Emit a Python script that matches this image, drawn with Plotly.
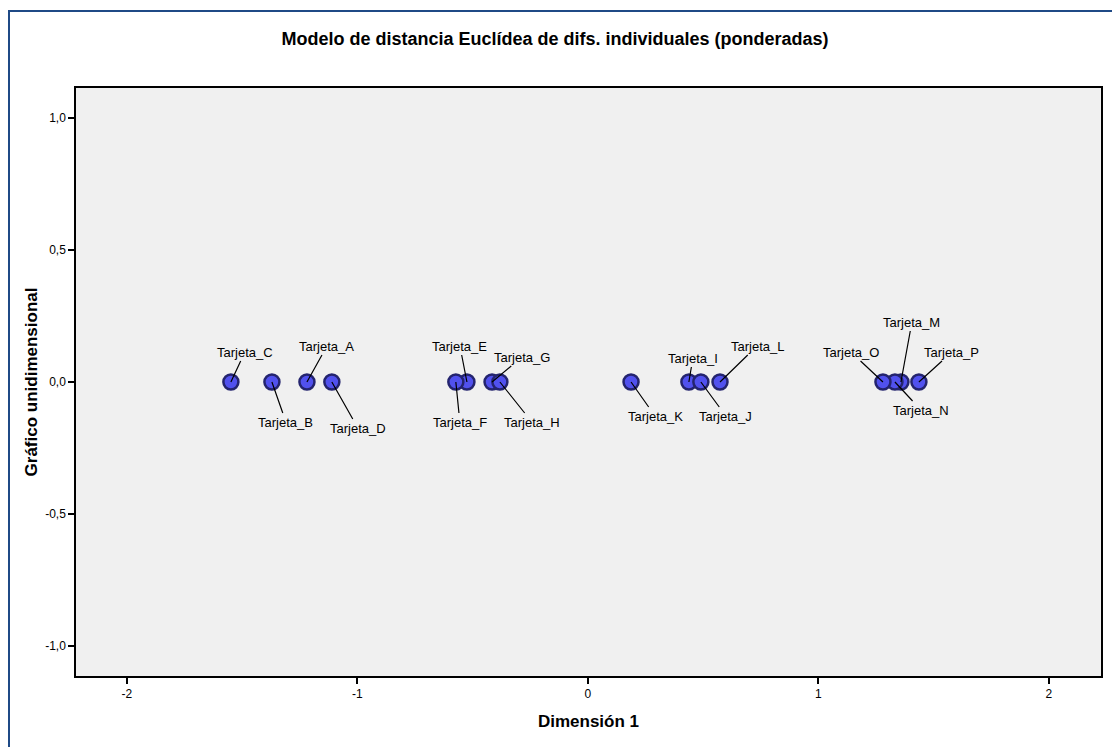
import plotly.graph_objects as go

# Data
labels = ["Tarjeta_A", "Tarjeta_B", "Tarjeta_C", "Tarjeta_D", "Tarjeta_E", "Tarjeta_F",
          "Tarjeta_G", "Tarjeta_H", "Tarjeta_I", "Tarjeta_J", "Tarjeta_K", "Tarjeta_L",
          "Tarjeta_M", "Tarjeta_N", "Tarjeta_O", "Tarjeta_P"]
dim1 = [-1.219, -1.371, -1.549, -1.111, -0.525, -0.573, -0.416, -0.382,
        0.438, 0.490, 0.187, 0.573, 1.358, 1.332, 1.280, 1.436]
dim2 = [0.0] * 16

x_ticks = [-2, -1, 0, 1, 2]
x_tick_text = ["-2", "-1", "0", "1", "2"]
y_ticks = [-1.0, -0.5, 0.0, 0.5, 1.0]
y_tick_text = ["-1,0", "-0,5", "0,0", "0,5", "1,0"]

# Label offsets in pixels (style only)
label_offsets = {
    "Tarjeta_A": (20, -36), "Tarjeta_B": (14, 40), "Tarjeta_C": (14, -30), "Tarjeta_D": (26, 46),
    "Tarjeta_E": (-7, -36), "Tarjeta_F": (4, 40), "Tarjeta_G": (30, -25), "Tarjeta_H": (32, 40),
    "Tarjeta_I": (4, -24), "Tarjeta_J": (25, 34), "Tarjeta_K": (24, 34), "Tarjeta_L": (37, -36),
    "Tarjeta_M": (11, -60), "Tarjeta_N": (26, 28), "Tarjeta_O": (-32, -30), "Tarjeta_P": (33, -30),
}

FONT = "Liberation Sans, Arial, sans-serif"

W, H = 1112, 739
L, R, T, B = 68, 19, 80, 71
PW, PH = W - L - R, H - T - B

fig = go.Figure()
fig.add_trace(go.Scatter(
    x=dim1, y=dim2, mode="markers", text=labels, hoverinfo="text",
    marker=dict(size=15, color="#5151ee", line=dict(color="#24246e", width=2.5)),
    showlegend=False,
))

annotations = []
for lab, xv, yv in zip(labels, dim1, dim2):
    ax, ay = label_offsets[lab]
    annotations.append(dict(
        x=xv, y=yv, xref="x", yref="y", text=lab, showarrow=True, arrowhead=0,
        arrowwidth=1.2, arrowcolor="black", ax=ax, ay=ay, standoff=0,
        font=dict(family=FONT, size=13, color="black"),
    ))

fig.update_layout(
    width=W, height=H,
    margin=dict(l=L, r=R, t=T, b=B),
    paper_bgcolor="white", plot_bgcolor="#f0f0f0",
    separators=",.",
    title=dict(text="<b>Modelo de distancia Euclídea de difs. individuales (ponderadas)</b>",
               x=547 / W, xref="container", y=1 - 31 / H, yref="container",
               xanchor="center", yanchor="middle",
               font=dict(family=FONT, size=18, color="black")),
    xaxis=dict(range=[-2.221, 2.226], tickvals=x_ticks, ticktext=x_tick_text,
               ticks="outside", ticklen=6,
               tickcolor="black", tickwidth=1.5, showgrid=False, zeroline=False,
               showline=True, linecolor="black", linewidth=1.5, mirror=True,
               tickfont=dict(family=FONT, size=12, color="black"),
               title=dict(text="<b>Dimensión 1</b>", standoff=15,
                          font=dict(family=FONT, size=17, color="black"))),
    yaxis=dict(range=[-1.114, 1.114], tickvals=y_ticks, ticktext=y_tick_text,
               ticks="outside", ticklen=6, tickcolor="black", tickwidth=1.5,
               showgrid=False, zeroline=False,
               showline=True, linecolor="black", linewidth=1.5, mirror=True,
               tickfont=dict(family=FONT, size=12, color="black"),
               title=dict(text="<b>Gráfico unidimensional</b>", standoff=3,
                          font=dict(family=FONT, size=17, color="black"))),
    annotations=annotations,
    shapes=[dict(type="rect", xref="paper", yref="paper",
                 x0=(1 - L) / PW, x1=(1130 - L) / PW,
                 y0=(PH + T - 760) / PH, y1=(PH + T - 3) / PH,
                 line=dict(color="#1f4a86", width=2), layer="below")],
)

fig.write_html("out.html")
